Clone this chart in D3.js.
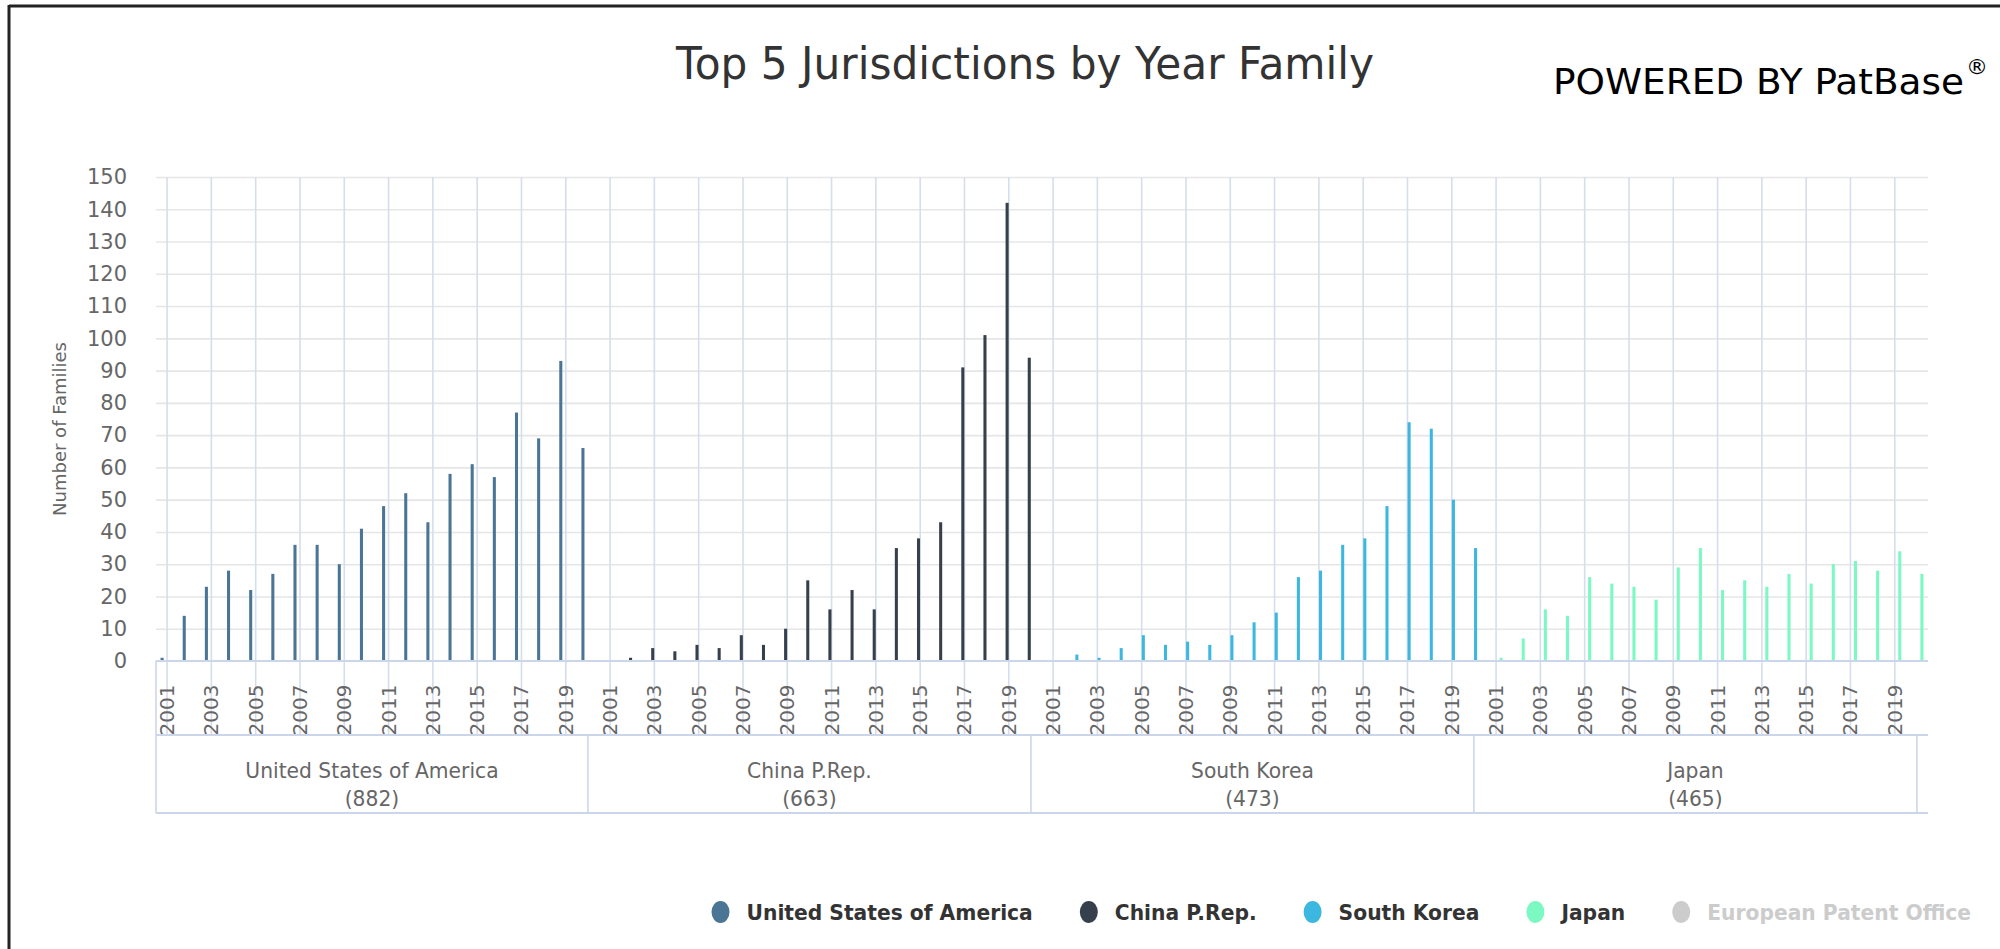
<!DOCTYPE html>
<html><head><meta charset="utf-8">
<script src="https://cdn.jsdelivr.net/npm/d3@7"></script>
<style>html,body{margin:0;padding:0;background:#fff;overflow:hidden} svg{display:block;font-family:"DejaVu Sans",Verdana,sans-serif}</style>
</head><body>
<svg id="chart" width="2000" height="949"></svg>
<script>
// ---------- data ----------
const years = ["2001","2002","2003","2004","2005","2006","2007","2008","2009","2010",
               "2011","2012","2013","2014","2015","2016","2017","2018","2019","2020"];
const jurisdictions = ["United States of America","China P.Rep.","South Korea","Japan"];
const totals = [882, 663, 473, 465];
const usaValues   = [1,14,23,28,22,27,36,36,30,41,48,52,43,58,61,57,77,69,93,66];
const chinaValues = [0,1,4,3,5,4,8,5,10,25,16,22,16,35,38,43,91,101,142,94];
const koreaValues = [0,2,1,4,8,5,6,5,8,12,15,26,28,36,38,48,74,72,50,35];
const japanValues = [1,7,16,14,26,24,23,19,29,35,22,25,23,27,24,30,31,28,34,27];
const legendNames = ["United States of America","China P.Rep.","South Korea","Japan","European Patent Office"];
const seriesColors = ["#4b7594","#36404d","#3cb8e0","#7cf8c3","#cccccc"];
const yTicks = [0,10,20,30,40,50,60,70,80,90,100,110,120,130,140,150];
const xTickYears = ["2001","2003","2005","2007","2009","2011","2013","2015","2017","2019"];

// ---------- layout ----------
const svg = d3.select("#chart");
const L = 156, R = 1928, T = 177, B = 661;
const labelRowBottom = 735, groupRowBottom = 813;
const condense = 0.965;

function squeeze(sel) {
  sel.each(function() {
    const w = this.getComputedTextLength();
    d3.select(this).attr("textLength", w * condense).attr("lengthAdjust", "spacingAndGlyphs");
  });
}

const seriesValues = [usaValues, chinaValues, koreaValues, japanValues];
const cats = [];
jurisdictions.forEach(j => years.forEach(y => cats.push(j + "|" + y)));

const x = d3.scaleBand().domain(cats).range([L, R]).paddingInner(0).paddingOuter(0);
const bw = x.bandwidth();
const inner = d3.scaleBand().domain(d3.range(jurisdictions.length))
  .range([0.2 * bw, 0.8 * bw]).paddingInner(0.2).paddingOuter(0.1);
const y = d3.scaleLinear().domain([0, 150]).range([B, T]);

// frame
svg.append("line").attr("x1",9).attr("x2",2000).attr("y1",6).attr("y2",6).attr("stroke","#222").attr("stroke-width",3);
svg.append("line").attr("x1",9).attr("x2",9).attr("y1",5).attr("y2",949).attr("stroke","#222").attr("stroke-width",3);

// horizontal grid
svg.append("g").attr("transform", `translate(${L},0)`)
  .call(d3.axisLeft(y).tickValues(yTicks.filter(v => v > 0)).tickSize(-(R - L)).tickFormat(""))
  .call(g => g.select(".domain").remove())
  .call(g => g.selectAll("line").attr("stroke","#e6e6e6").attr("stroke-width",1.6));

// y labels
svg.append("g").attr("transform", `translate(${L},0)`)
  .call(d3.axisLeft(y).tickValues(yTicks).tickSize(0).tickPadding(29))
  .call(g => g.select(".domain").remove())
  .call(g => g.selectAll("text").attr("fill","#666").attr("font-size","21px")
      .attr("font-family","DejaVu Sans, Verdana, sans-serif"));

// y title
svg.append("text").attr("transform","translate(60,429) rotate(-90)")
  .attr("text-anchor","middle").attr("dy","0.35em")
  .attr("fill","#666").attr("font-size","18px").text("Number of Families");

// vertical grid lines at labelled categories
const labelledCats = cats.filter(c => xTickYears.includes(c.split("|")[1]));
svg.append("g").selectAll("line").data(labelledCats).join("line")
  .attr("x1", c => x(c) + bw / 2).attr("x2", c => x(c) + bw / 2)
  .attr("y1", T).attr("y2", labelRowBottom)
  .attr("stroke","#d6ddec").attr("stroke-width",1.6);

// bars
jurisdictions.forEach((j, si) => {
  svg.append("g").selectAll("rect")
    .data(years.map((yr, i) => ({cat: j + "|" + yr, v: seriesValues[si][i]})).filter(d => d.v > 0))
    .join("rect")
    .attr("x", d => x(d.cat) + inner(si) - 0.2)
    .attr("width", inner.bandwidth() + 0.4)
    .attr("y", d => y(d.v))
    .attr("height", d => B - y(d.v))
    .attr("fill", seriesColors[si]);
});

// x axis lines
const axisCol = "#ccd6eb";
[B, labelRowBottom, groupRowBottom].forEach(yy => {
  svg.append("line").attr("x1", L).attr("x2", R).attr("y1", yy).attr("y2", yy)
    .attr("stroke", axisCol).attr("stroke-width", 2);
});
svg.append("line").attr("x1", L).attr("x2", L).attr("y1", B).attr("y2", groupRowBottom)
  .attr("stroke", axisCol).attr("stroke-width", 1.6);

// x tick labels (rotated)
svg.append("g").selectAll("text").data(labelledCats).join("text")
  .attr("transform", c => `translate(${x(c) + bw / 2},${(B + labelRowBottom) / 2 + 12}) rotate(-90)`)
  .attr("text-anchor","middle").attr("dy","0.35em")
  .attr("fill","#666").attr("font-size","20px")
  .text(c => c.split("|")[1]);

// group separators & labels
jurisdictions.forEach((j, gi) => {
  const firstCat = j + "|" + years[0];
  const lastCat = j + "|" + years[years.length - 1];
  const x0 = gi === 0 ? L : x(firstCat) - bw / 2;
  const x1 = x(lastCat) + bw / 2;
  svg.append("line").attr("x1", x1).attr("x2", x1).attr("y1", labelRowBottom).attr("y2", groupRowBottom)
    .attr("stroke", axisCol).attr("stroke-width", 1.6);
  const cx = (x0 + x1) / 2;
  svg.append("text").attr("x", cx).attr("y", 778).attr("text-anchor","middle")
    .attr("fill","#666").attr("font-size","21px").text(j).call(squeeze);
  svg.append("text").attr("x", cx).attr("y", 806).attr("text-anchor","middle")
    .attr("fill","#666").attr("font-size","21px").text("(" + totals[gi] + ")").call(squeeze);
});

// title
svg.append("text").attr("x", 1025).attr("y", 79).attr("text-anchor","middle")
  .attr("fill","#333").attr("font-size","44px")
  .attr("textLength", 698).attr("lengthAdjust","spacingAndGlyphs")
  .text("Top 5 Jurisdictions by Year Family");
svg.append("text").attr("x", 1553).attr("y", 94)
  .attr("fill","#000").attr("font-size","36px")
  .attr("textLength", 411).attr("lengthAdjust","spacingAndGlyphs")
  .text("POWERED BY PatBase");
svg.append("text").attr("x", 1966).attr("y", 74)
  .attr("fill","#000").attr("font-size","22px").text("®");

// legend (right aligned)
const lg = svg.append("g");
const items = lg.selectAll("g").data(legendNames).join("g");
items.append("text").attr("font-size","21px").attr("font-weight","bold")
  .attr("fill", (d, i) => i === 4 ? "#cccccc" : "#333")
  .attr("y", 920).text(d => d);
const widths = [];
items.select("text").each(function() { widths.push(this.getComputedTextLength() * condense); });
items.select("text").attr("textLength", (d, i) => widths[i]).attr("lengthAdjust","spacingAndGlyphs");
let cursor = 1971;
const starts = [];
for (let i = legendNames.length - 1; i >= 0; i--) {
  const ts = cursor - widths[i];
  starts[i] = ts;
  cursor = ts - 26 - 56;
}
items.select("text").attr("x", (d, i) => starts[i]);
items.append("ellipse").attr("cx", (d, i) => starts[i] - 26).attr("cy", 912)
  .attr("rx", 9).attr("ry", 11).attr("fill", (d, i) => seriesColors[i]);
</script>
</body></html>
